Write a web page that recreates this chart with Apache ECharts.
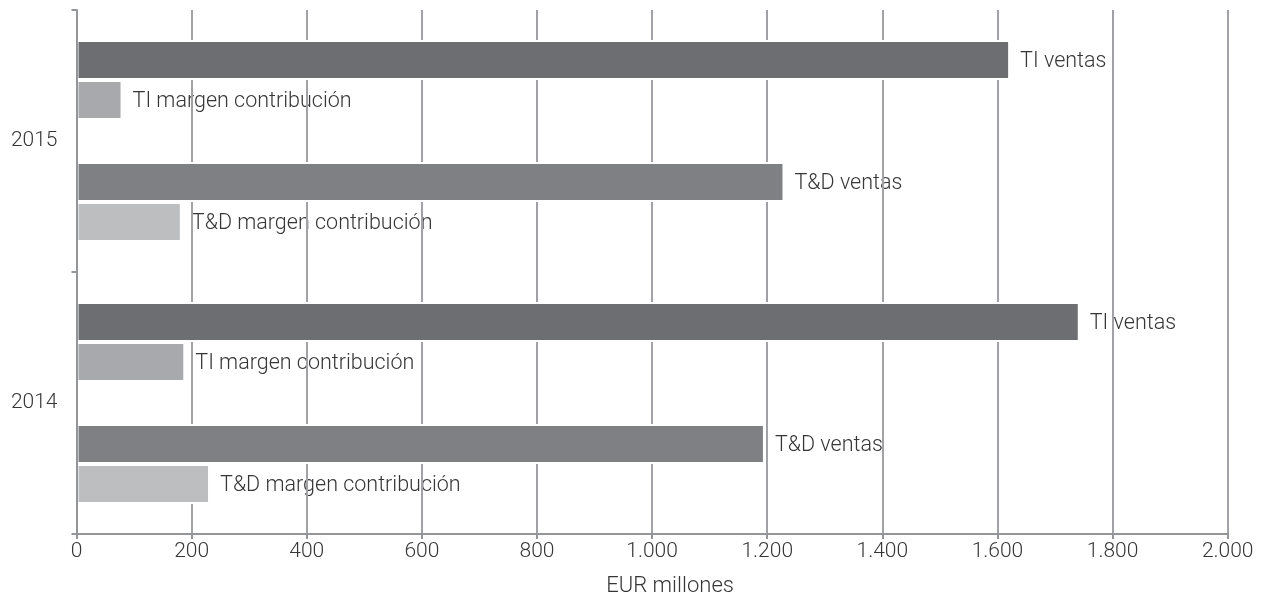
<!DOCTYPE html>
<html>
<head>
<meta charset="utf-8">
<script src="https://cdn.jsdelivr.net/npm/echarts@6/dist/echarts.min.js"></script>
<style>
  html, body { margin: 0; padding: 0; background: #ffffff; }
  #chart { width: 1262px; height: 602px; }
</style>
</head>
<body>
<div id="chart"></div>
<script>
// Years on the category axis (bottom to top)
const years = ['2014', '2015'];

// Values in EUR millones, one entry per year (2014, 2015)
const tiVentas = [1743, 1622];
const tiMargen = [189, 80];
const tdVentas = [1196, 1230];
const tdMargen = [232, 183];

// Series names (also used as bar labels)
const seriesNames = ['TI ventas', 'TI margen contribución', 'T&D ventas', 'T&D margen contribución'];
const seriesValues = [tiVentas, tiMargen, tdVentas, tdMargen];
const seriesColors = ['#6d6e71', '#a7a9ac', '#7f8084', '#bcbec0'];

// Value axis ticks
const xMin = 0;
const xMax = 2000;
const xStep = 200;

const FONT = 'Roboto';
const TEXT_COLOR = '#363636';
const AXIS_COLOR = '#939598';
const BAR_W = 40;
const GAP_W = 42;

// Builds one group of bars: two pairs separated by an empty slot.
// visible=true draws the bars; visible=false draws only their labels
// (on a second, hidden category axis with the same layout) so grid lines pass over the text.
function buildGroup(yAxisIndex, visible) {
  const list = [];
  const order = [0, 1, -1, 2, 3];
  order.forEach(function (idx) {
    if (idx < 0) {
      list.push({
        type: 'bar', yAxisIndex: yAxisIndex, barWidth: GAP_W, barGap: 0,
        data: years.map(function () { return '-'; }), silent: true,
        z: visible ? 3 : 1
      });
      return;
    }
    list.push({
      name: seriesNames[idx],
      type: 'bar',
      yAxisIndex: yAxisIndex,
      barWidth: BAR_W,
      barGap: 0,
      data: seriesValues[idx],
      silent: !visible,
      z: visible ? 3 : 1,
      itemStyle: visible
        ? { color: seriesColors[idx], borderColor: '#ffffff', borderWidth: 2 }
        : { color: 'rgba(0,0,0,0)', borderWidth: 0 },
      label: {
        show: !visible,
        position: 'right',
        distance: 10,
        offset: [0, 2],
        formatter: '{a}',
        fontFamily: FONT,
        fontWeight: 300,
        fontSize: 21.5,
        color: TEXT_COLOR
      }
    });
  });
  return list;
}

const chart = echarts.init(document.getElementById('chart'), null, { renderer: 'canvas' });

chart.setOption({
  backgroundColor: '#ffffff',
  animation: false,
  grid: { left: 76.5, right: 34.3, top: 10, bottom: 65, containLabel: false },
  xAxis: {
    type: 'value',
    min: xMin,
    max: xMax,
    interval: xStep,
    z: 2,
    name: 'EUR millones',
    nameLocation: 'middle',
    nameGap: 41,
    nameTextStyle: {
      fontFamily: FONT, fontWeight: 300, fontSize: 22, color: TEXT_COLOR,
      padding: [0, 0, 0, 36]
    },
    axisLine: { show: true, lineStyle: { color: AXIS_COLOR, width: 2 } },
    axisTick: { show: true, length: 5, lineStyle: { color: AXIS_COLOR, width: 2 } },
    axisLabel: {
      margin: 7,
      fontFamily: FONT, fontWeight: 300, fontSize: 21, color: TEXT_COLOR,
      formatter: function (v) {
        return String(v).replace(/\B(?=(\d{3})+(?!\d))/g, '.');
      }
    },
    splitLine: { show: true, lineStyle: { color: '#a0a2a5', width: 2 } }
  },
  yAxis: [
    {
      type: 'category',
      data: years,
      z: 4,
      axisLine: { show: true, lineStyle: { color: AXIS_COLOR, width: 2 } },
      axisTick: { show: true, length: 5, alignWithLabel: false, lineStyle: { color: AXIS_COLOR, width: 2 } },
      axisLabel: {
        margin: 19,
        fontFamily: FONT, fontWeight: 300, fontSize: 21, color: TEXT_COLOR
      },
      splitLine: { show: false }
    },
    {
      type: 'category',
      data: years,
      show: false
    }
  ],
  series: buildGroup(0, true).concat(buildGroup(1, false))
});
</script>
</body>
</html>
